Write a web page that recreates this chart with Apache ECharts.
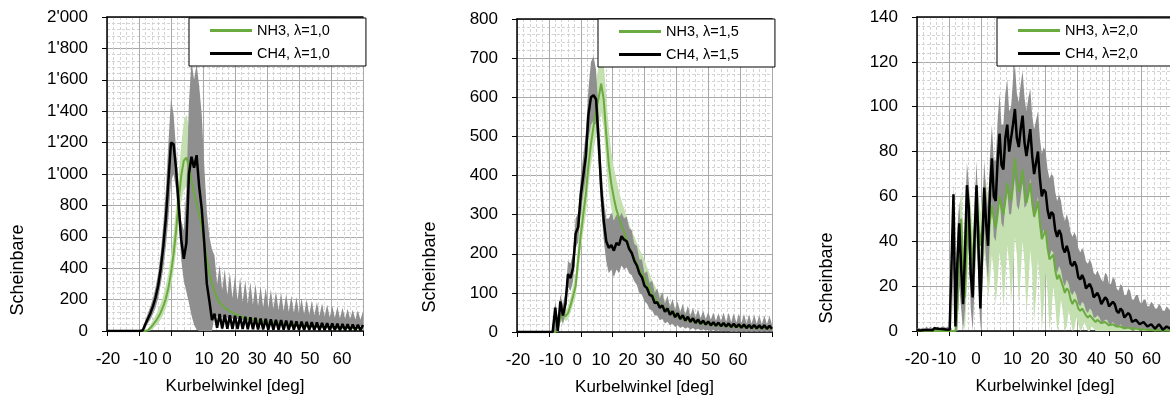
<!DOCTYPE html>
<html><head><meta charset="utf-8">
<script src="https://cdn.jsdelivr.net/npm/echarts@6/dist/echarts.min.js"></script>
<style>html,body{margin:0;padding:0;background:#fff}#c{width:1170px;height:396px}</style>
</head><body><div id="c"></div>
<script>
// ---------------- data ----------------
const TICK_TEXT = ['-20','-10','0','10','20','30','40','50','60'];
const X_TITLE = 'Kurbelwinkel [deg]';
const Y_TITLE = 'Scheinbare';

// Panel 1 (lambda 1,0): samples every 0.8 deg from -20
const p1Start = -20, p1Step = 0.8;
const p1CH4 = [
0,0,0,0,0,0,0,0,0,0,
0,0,0,0,5,45,80,115,160,215,
290,400,540,720,960,1200,1190,1030,800,580,
460,560,1000,1110,1040,1120,920,780,560,300,
190,70,110,20,108,16,104,14,100,13,
97,12,94,12,90,11,87,11,84,10,
80,10,77,9,74,9,72,9,69,8,
67,8,65,8,62,7,60,7,58,7,
56,7,54,6,52,6,50,6,48,6,
46,5,45,5,43,5,42,5,40,5,
38];
const p1NH3 = [
0,0,0,0,0,0,0,0,0,0,
0,0,0,0,0,0,5,20,40,62,
88,118,158,208,275,370,490,640,830,990,
1085,1105,1050,960,880,810,745,670,560,460,
370,305,250,210,178,165,145,140,122,120,
104,104,90,92,80,83,72,75,65,69,
59,63,54,58,50,54,46,50,43,47,
40,44,37,41,35,38,33,36,31,34,
29,32,27,30,26,29,24,27,23,26,
22,24,20,23,19,22,18,21,17,20,
16];
const p1NH3Hi = [
0,0,0,0,0,0,0,0,0,0,
0,0,0,0,0,0,15,40,70,100,
135,175,225,290,370,480,620,800,1000,1180,
1330,1380,1300,1150,1000,920,850,770,660,560,
460,390,330,280,240,220,195,185,165,160,
140,135,118,118,104,106,94,96,86,88,
78,80,71,73,66,68,61,63,57,59,
53,55,50,52,47,49,44,46,42,44,
40,42,38,40,36,38,34,36,33,35,
31,33,30,32,29,31,28,30,27,29,
26];
const p1NH3Lo = [
0,0,0,0,0,0,0,0,0,0,
0,0,0,0,0,0,0,5,15,30,
50,75,105,145,200,280,380,510,680,820,
900,920,880,810,760,700,640,570,470,380,
300,240,190,160,135,125,110,105,92,90,
78,80,68,70,60,62,54,56,48,50,
43,45,39,41,36,38,33,35,30,32,
28,30,26,28,25,27,23,25,22,24,
20,22,19,21,18,20,17,19,16,18,
15,17,14,16,13,15,12,14,12,13,
11];
const p1CH4Hi = [
0,0,0,0,0,0,0,0,0,0,
0,0,0,0,15,70,115,160,210,280,
370,500,680,900,1200,1480,1380,1150,900,700,
640,900,1450,1720,1600,1700,1560,1380,1050,760,
600,520,480,300,420,260,395,230,375,210,
355,195,340,185,325,175,312,168,300,160,
288,152,275,146,265,140,255,134,245,128,
235,122,225,117,216,112,208,108,200,104,
192,100,184,96,176,92,168,88,160,85,
154,82,148,79,142,76,136,74,130,72,
125];
const p1CH4Lo = [
0,0,0,0,0,0,0,0,0,0,
0,0,0,0,0,20,50,75,110,150,
210,300,400,540,720,950,1000,900,700,450,
320,250,180,100,40,10,0,0,0,0,
0,0,95,92,90,88,86,84,82,80,
78,76,74,72,71,69,68,66,65,63,
62,61,60,58,57,56,55,54,53,52,
51,50,49,48,47,46,45,45,44,43,
42,42,41,40,40,39,38,38,37,36,
36,35,35,34,34,33,33,32,32,31,
31];

// Panel 2 (lambda 1,5): samples every 0.8 deg from -20
const p2Start = -20, p2Step = 0.8;
const p2CH4 = [
0,0,0,0,0,0,0,0,0,0,
0,0,0,0,0,62,3,78,42,72,
148,138,165,252,268,350,400,450,555,600,
605,595,490,370,285,232,215,222,208,228,
222,245,236,232,212,202,182,170,150,140,
118,112,95,92,74,76,62,68,52,60,
44,53,38,48,33,43,29,39,26,35,
23,32,21,29,19,27,17,25,16,24,
15,23,14,22,13,21,12,20,11,19,
10,18,10,18,9,17,9,17,8,16,
8];
const p2NH3 = [
0,0,0,0,0,0,0,0,0,0,
0,0,0,0,0,0,8,35,46,40,
48,68,92,118,185,248,302,352,425,480,
525,565,598,635,595,505,428,378,342,312,
292,272,256,236,218,202,190,176,162,150,
140,124,112,96,90,76,74,62,62,52,
54,44,48,38,42,33,37,29,33,26,
30,23,27,21,25,19,23,17,21,16,
20,15,19,14,18,13,17,12,16,12,
15,11,15,11,14,10,14,10,13,10,
13];
const p2CH4Hi = [
0,0,0,0,0,0,0,0,0,0,
0,0,0,0,0,80,30,95,70,100,
180,175,200,290,305,395,450,510,620,690,
705,670,560,430,340,290,290,305,285,300,
290,305,290,295,265,260,225,220,185,185,
150,155,125,132,100,112,85,102,72,93,
63,85,56,78,50,72,45,67,41,62,
38,58,35,55,33,52,31,50,29,48,
28,50,26,49,25,48,24,47,23,46,
22,45,21,44,21,43,20,42,20,41,
19];
const p2CH4Lo = [
0,0,0,0,0,0,0,0,0,0,
0,0,0,0,0,0,0,40,20,45,
115,105,130,215,230,305,350,395,490,530,
540,530,430,320,235,180,150,160,140,160,
150,170,160,165,150,145,130,120,100,95,
78,72,58,55,42,42,30,33,22,26,
17,21,13,17,10,14,8,12,6,10,
5,8,4,7,3,6,2,5,2,4,
1,3,1,3,0,2,0,2,0,2,
0,2,0,2,0,2,0,2,0,2,
0];
const p2NH3Hi = [
0,0,0,0,0,0,0,0,0,0,
0,0,0,0,0,0,15,45,58,55,
65,88,118,150,225,290,350,405,480,540,
590,640,680,705,690,600,520,460,420,390,
360,335,315,295,275,258,245,228,212,198,
185,166,150,130,120,104,100,85,84,72,
74,62,66,54,58,48,52,43,47,39,
43,35,39,32,36,30,33,27,31,25,
29,24,27,22,26,21,25,20,24,19,
23,18,22,18,21,17,21,17,20,16,
20];
const p2NH3Lo = [
0,0,0,0,0,0,0,0,0,0,
0,0,0,0,0,0,2,25,35,28,
32,50,70,90,150,210,258,300,370,425,
465,500,530,560,520,430,360,315,285,260,
240,225,210,192,176,162,150,140,128,118,
108,95,85,72,68,56,55,45,46,37,
40,31,35,27,31,23,27,20,24,18,
22,16,20,14,18,12,16,11,15,10,
14,9,13,8,12,8,11,7,10,7,
10,6,9,6,9,5,8,5,8,5,
7];

// Panel 3 (lambda 2,0): samples every 0.6 deg from -20
const p3Start = -20, p3Step = 0.6;
const p3CH4 = [
0.3,0.6,0.2,0.8,0.4,1.0,0.5,0.9,0.3,1.2,
0.6,1.0,0.4,0.9,1.3,0.7,1.1,0.5,0.8,61,
2,30,48,28,12,35,65,55,25,15,
42,65,38,10,38,64,48,38,62,77,
60,58,76,88,74,72,86,92,80,80,
92,99,86,82,90,96,84,78,84,90,
78,70,75,80,68,60,63,62,54,50,
53,52,45,42,45,43,37,35,38,35,
30,29,31,29,24,23,25,23,19,19,
21,19,15,15,17,15,12,12,15,14,
11,11,13,12,9,8,10,9,6,6,
8,7,4,4,5,5,3,3,4,4,
2,2,3,3,1,2,3,2,0.5,1,
2,2,1,2,2];
const p3NH3 = [
0,0,0,0,0,0,0,0,0,0,
0,0,0,0,0,0,0,0,0,0,
0,10,40,50,30,15,40,52,42,30,
44,56,48,38,46,55,50,44,49,56,
50,46,52,60,55,52,58,66,60,58,
67,77,68,62,66,72,63,57,61,66,
57,51,54,58,48,41,43,45,37,32,
33,34,27,23,25,25,20,17,19,18,
14,12,14,13,10,9,10,10,7,6,
7,7,5,4,5,5,3.5,3,4,4,
2.5,2,3,3,2,1.5,2,2,1.2,1,
1.5,1.5,1,0.8,1.2,1,0.6,0.5,0.8,0.8,
0.4,0.3,0.6,0.5,0.2,0.2,0.4,0.4,0.1,0.1,
0.3,0.3,0.1,0.1,0.2];
const p3CH4Hi = [
1,1.5,1,1.5,1,2,1,2,1,2,
1.5,2,1,2,2,1.5,2,1,1.5,66,
20,45,58,40,28,50,75,66,38,30,
55,76,52,26,52,76,62,55,78,92,
76,76,94,106,92,92,106,112,98,100,
112,119,106,102,110,116,104,98,104,108,
96,90,94,98,86,79,82,80,72,68,
70,69,62,58,61,58,52,49,52,49,
44,42,44,42,37,35,37,35,31,30,
32,30,26,25,27,25,23,22,26,25,
21,21,24,23,19,18,21,20,16,16,
19,18,14,14,16,16,13,12,14,14,
11,11,13,12,10,10,12,11,9,9,
11,10,9,9,10];
const p3CH4Lo = [
0,0,0,0,0,0,0,0,0,0,
0,0,0,0,0,0,0,0,0,30,
0,0,20,10,0,10,40,35,10,0,
20,45,22,0,18,45,32,22,42,58,
42,40,50,60,48,46,56,62,52,52,
60,68,56,54,60,66,55,56,62,68,
58,50,55,60,48,42,45,44,37,33,
36,35,28,26,29,27,22,20,23,21,
17,16,18,16,12,11,13,12,9,8,
10,9,6,6,7,6,4,4,5,5,
3,3,4,3,2,2,3,2,1,1,
2,1,0,0,1,1,0,0,1,1,
0,0,0,0,0,0,0,0,0,0,
0,0,0,0,0];
const p3NH3Hi = [
0,0,0,0,0,0,0,0,0,0,
0,0,0,0,0,0,0,0,0,0,
0,20,55,62,45,30,55,66,56,45,
58,70,62,52,60,70,66,60,66,74,
68,64,72,82,76,74,82,92,86,84,
96,110,98,90,96,104,92,84,88,94,
82,74,78,82,70,61,63,65,55,48,
50,51,42,36,38,38,31,27,29,28,
22,19,21,20,16,14,15,15,11,10,
11,11,8,7,8,8,6,5,6,6,
4,4,5,5,3,3,4,4,2.5,2,
3,3,2,1.5,2,2,1.2,1,1.5,1.5,
1,1,1,1,1,1,1,1,1,1,
1,1,1,1,1];
const p3NH3Lo = [
0,0,0,0,0,0,0,0,0,0,
0,0,0,0,0,0,0,0,0,0,
0,0,20,30,5,0,20,35,20,5,
20,38,28,15,22,35,28,15,22,34,
26,12,22,35,28,10,24,38,30,12,
26,42,34,12,25,40,30,8,20,36,
26,4,16,32,22,0,12,26,17,0,
8,20,12,0,4,14,8,0,2,9,
5,0,1,6,3,0,1,4,2,0,
0,2,1,0,0,0,0,0,0,0,
0,0,0,0,0,0,0,0,0,0,
0,0,0,0,0,0,0,0,0,0,
0,0,0,0,0,0,0,0,0,0,
0,0,0,0,0];

const NAMES = [['NH3, λ=1,0','CH4, λ=1,0'],['NH3, λ=1,5','CH4, λ=1,5'],['NH3, λ=2,0','CH4, λ=2,0']];
const Y_MAX = [2000, 800, 140];
const Y_STEP = [200, 100, 20];

// ---------------- layout / style ----------------
const FONT = 'Liberation Sans';
const GRIDS = [
  {left:107, top:17, width:256, height:314},
  {left:517, top:19, width:255, height:313},
  {left:917, top:17, width:256, height:314}
];
// where the (irregularly placed) x tick labels sit, in axis units
const X_LABEL_AT = [
  [-19.7,-8.1,-1.25,10.3,18.4,26.9,35.0,43.4,53.4],
  [-19.7,-9.3,-1.1,6.3,14.8,23.3,32.0,40.8,49.3],
  [-20,-11.6,-1.6,9.8,18.4,27.2,36.1,44.7,53.3]
];
const LEGEND_AT = [[189,18],[598,19],[997,18]];
const YTITLE_AT = [[18,270],[430,267],[827,278]];
const GREEN = '#6aaa3e', GREEN_BAND = '#c4dfb0', GREY_BAND = '#8f8f8f';

const PANELS = [
  {start:p1Start, step:p1Step, nh3:p1NH3, ch4:p1CH4, nLo:p1NH3Lo, nHi:p1NH3Hi, cLo:p1CH4Lo, cHi:p1CH4Hi},
  {start:p2Start, step:p2Step, nh3:p2NH3, ch4:p2CH4, nLo:p2NH3Lo, nHi:p2NH3Hi, cLo:p2CH4Lo, cHi:p2CH4Hi},
  {start:p3Start, step:p3Step, nh3:p3NH3, ch4:p3CH4, nLo:p3NH3Lo, nHi:p3NH3Hi, cLo:p3CH4Lo, cHi:p3CH4Hi}
];

function angle(start, step, i){ return Math.round((start+i*step)*1000)/1000; }
function pairs(start, step, vals){ return vals.map((v,i)=>[angle(start,step,i), v]); }
function yFmt(v){
  if (v >= 1000) return Math.floor(v/1000) + "'" + String(v%1000).padStart(3,'0');
  return String(v);
}

const series = [];
const xAxes = [], yAxes = [], legends = [], graphics = [];

PANELS.forEach((p, g) => {
  // band between lower and upper envelope, drawn as one polygon through the axis scales
  const band = (lo, hi, color) => {
    series.push({
      type:'custom', xAxisIndex:g, yAxisIndex:g, silent:true,
      data:[[p.start, 0]], encode:{x:0, y:1},
      renderItem:(params, api) => {
        const pts = [];
        for (let i = 0; i < hi.length; i++) pts.push(api.coord([angle(p.start,p.step,i), hi[i]]));
        for (let i = lo.length - 1; i >= 0; i--) pts.push(api.coord([angle(p.start,p.step,i), lo[i]]));
        return {type:'polygon', shape:{points:pts}, style:{fill:color, stroke:null}};
      }
    });
  };
  band(p.nLo, p.nHi, GREEN_BAND);
  band(p.cLo, p.cHi, GREY_BAND);
  series.push({type:'line', name:NAMES[g][0], xAxisIndex:g, yAxisIndex:g, data:pairs(p.start,p.step,p.nh3),
    symbol:'none', lineStyle:{color:GREEN, width:2}, itemStyle:{color:GREEN}, emphasis:{disabled:true}});
  series.push({type:'line', name:NAMES[g][1], xAxisIndex:g, yAxisIndex:g, data:pairs(p.start,p.step,p.ch4),
    symbol:'none', lineStyle:{color:'#000', width:2.5}, itemStyle:{color:'#000'}, emphasis:{disabled:true}});

  const at = X_LABEL_AT[g];
  const fmt = (v) => {
    let best = -1, d = 1e9;
    at.forEach((a, i) => { const dd = Math.abs(a - v); if (dd < d) { d = dd; best = i; } });
    return d < 0.05 ? TICK_TEXT[best] : '';
  };
  xAxes[g] = {
    gridIndex:g, type:'value', min:-20, max:60, interval:10,
    axisLine:{show:true, onZero:false, lineStyle:{color:'#000', width:1.5}},
    axisTick:{show:true, length:5, lineStyle:{color:'#000', width:1}},
    axisLabel:{customValues:at, formatter:fmt, showMinLabel:true, showMaxLabel:true, hideOverlap:false,
      fontSize:17, color:'#000', fontFamily:FONT, margin:20},
    splitLine:{show:true, lineStyle:{color:'#a9a9a9', width:1}},
    minorTick:{show:false, splitNumber:5},
    minorSplitLine:{show:true, lineStyle:{color:'#d4d4d4', width:1, type:[3,2]}},
    name:X_TITLE, nameLocation:'middle', nameGap:47, nameMoveOverlap:false,
    nameTextStyle:{fontSize:17, color:'#000', fontFamily:FONT}
  };
  xAxes[g+3] = {
    gridIndex:g, type:'value', position:'top', min:-20, max:60,
    axisLine:{show:true, onZero:false, lineStyle:{color:'#000', width:1.5}},
    axisTick:{show:false}, axisLabel:{show:false}, splitLine:{show:false}
  };
  yAxes[g] = {
    gridIndex:g, type:'value', min:0, max:Y_MAX[g], interval:Y_STEP[g],
    axisLine:{show:true, onZero:false, lineStyle:{color:'#000', width:1.5}},
    axisTick:{show:true, length:5, lineStyle:{color:'#000', width:1}},
    axisLabel:{formatter:yFmt, fontSize:17, color:'#000', fontFamily:FONT, margin:19},
    splitLine:{show:true, lineStyle:{color:'#a9a9a9', width:1}},
    minorTick:{show:false, splitNumber:5},
    minorSplitLine:{show:true, lineStyle:{color:'#d4d4d4', width:1, type:[3,2]}}
  };
  legends.push({
    data:NAMES[g].map((n, k) => ({name:n, icon:'rect', itemStyle:{color: k ? '#000' : GREEN}})),
    orient:'vertical', left:LEGEND_AT[g][0], top:LEGEND_AT[g][1],
    padding:[4,36,4,21], itemGap:6, itemWidth:42, itemHeight:3,
    backgroundColor:'#fff', borderColor:'#000', borderWidth:1, borderRadius:0,
    selectedMode:false, textStyle:{fontSize:14.5, color:'#000', fontFamily:FONT, lineHeight:17}
  });
  graphics.push({type:'text', x:YTITLE_AT[g][0], y:YTITLE_AT[g][1], rotation:Math.PI/2,
    style:{text:Y_TITLE, font:'18px "Liberation Sans"', fill:'#000', align:'center', verticalAlign:'middle'}});
});

const chart = echarts.init(document.getElementById('c'), null, {renderer:'canvas'});
chart.setOption({
  animation:false,
  backgroundColor:'#fff',
  textStyle:{fontFamily:FONT},
  grid: GRIDS.map(gr => Object.assign({outerBoundsMode:'none', containLabel:false}, gr)),
  xAxis: xAxes,
  yAxis: yAxes,
  legend: legends,
  series,
  graphic: graphics
});
</script>
</body></html>
